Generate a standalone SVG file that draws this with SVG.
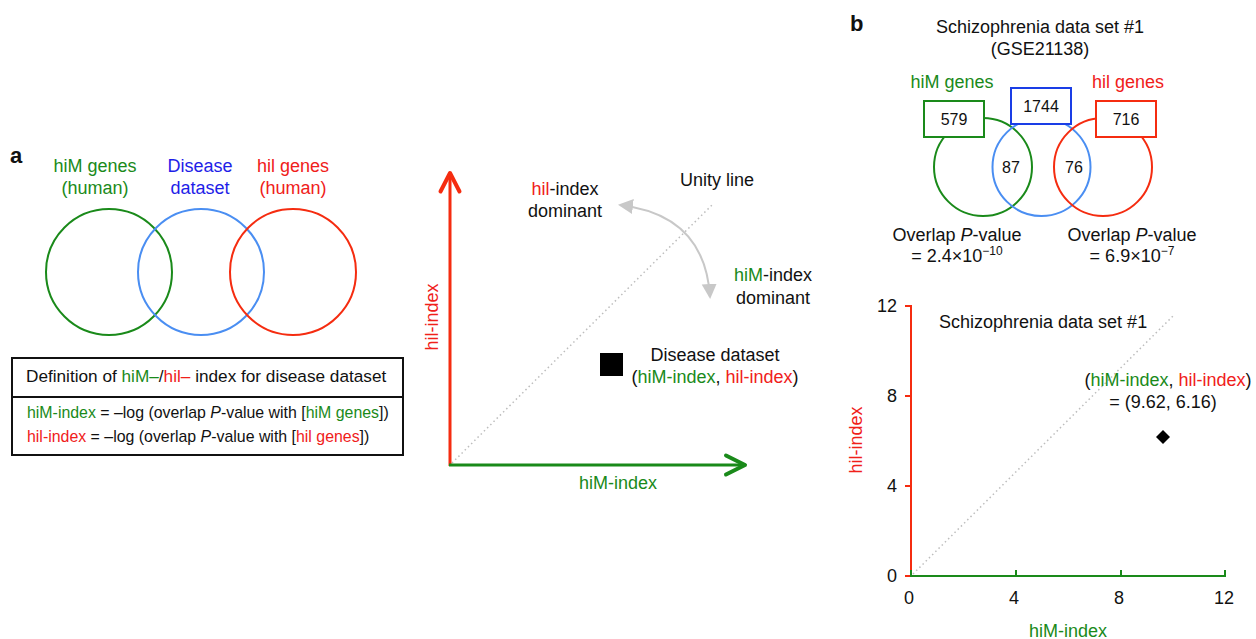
<svg xmlns="http://www.w3.org/2000/svg" width="1256" height="639" viewBox="0 0 1256 639">
<style>
text{font-family:"Liberation Sans",Arial,sans-serif;fill:#111}
.g{fill:#1a8a1a}.r{fill:#f0201a}.b{fill:#1e1ee8}
.lbl{font-size:18px}
.mid{text-anchor:middle}
.end{text-anchor:end}
.panel{font-size:22px;font-weight:bold}
.num{font-size:16px;text-anchor:middle}
.dot{stroke:#bdbdbd;stroke-width:1.5;stroke-dasharray:1.5 3;fill:none}
.cg{fill:none;stroke:#1a8a1a;stroke-width:2}
.cb{fill:none;stroke:#4a8ef2;stroke-width:2}
.cr{fill:none;stroke:#f52c10;stroke-width:2}
.box{fill:#fff;stroke-width:2}
</style>
<defs>
<marker id="gh" markerUnits="userSpaceOnUse" markerWidth="16" markerHeight="16" refX="13" refY="7.5" orient="auto-start-reverse" viewBox="0 0 16 16">
<path d="M0,0 L15,7.5 L0,15 z" fill="#c8c8c8"/>
</marker>
</defs>

<!-- Panel a -->
<text class="panel" x="10" y="163">a</text>

<g id="venn-a">
<circle class="cg" cx="109" cy="272" r="63"/>
<circle class="cb" cx="201" cy="272" r="63"/>
<circle class="cr" cx="293" cy="272" r="63"/>
<text class="lbl mid g" x="95" y="172">hiM genes</text>
<text class="lbl mid g" x="95" y="194">(human)</text>
<text class="lbl mid b" x="200" y="172">Disease</text>
<text class="lbl mid b" x="200" y="194">dataset</text>
<text class="lbl mid r" x="293" y="172">hil genes</text>
<text class="lbl mid r" x="293" y="194">(human)</text>
</g>

<g id="definition">
<rect x="12" y="358" width="391" height="39" fill="none" stroke="#111" stroke-width="2"/>
<rect x="12" y="397" width="391" height="58" fill="none" stroke="#111" stroke-width="2"/>
<text x="26" y="382" font-size="17.2">Definition of <tspan class="g">hiM–</tspan>/<tspan class="r">hil–</tspan> index for disease dataset</text>
<text x="27" y="418" font-size="15.9"><tspan class="g">hiM-index</tspan> = –log (overlap <tspan font-style="italic">P</tspan>-value with [<tspan class="g">hiM genes</tspan>])</text>
<text x="27" y="442" font-size="15.9"><tspan class="r">hil-index</tspan> = –log (overlap <tspan font-style="italic">P</tspan>-value with [<tspan class="r">hil genes</tspan>])</text>
</g>

<g id="schematic-plot">
<line class="dot" x1="452" y1="463" x2="712" y2="205"/>
<line x1="450" y1="466" x2="450" y2="174" stroke="#f52c10" stroke-width="3"/>
<polyline points="440.5,191.5 450,173 459.5,191.5" fill="none" stroke="#f52c10" stroke-width="4" stroke-linecap="round" stroke-linejoin="round"/>
<line x1="449" y1="465" x2="743" y2="465" stroke="#1a8a1a" stroke-width="3"/>
<polyline points="726,455.5 745,465 726,474.5" fill="none" stroke="#1a8a1a" stroke-width="4" stroke-linecap="round" stroke-linejoin="round"/>
<text class="lbl mid g" x="618" y="489">hiM-index</text>
<text class="lbl mid r" transform="translate(438,317) rotate(-90)">hil-index</text>
<text class="lbl" x="680" y="186">Unity line</text>
<text class="lbl mid" x="565" y="195"><tspan class="r">hil</tspan>-index</text>
<text class="lbl mid" x="565" y="217">dominant</text>
<text class="lbl mid" x="773" y="281"><tspan class="g">hiM</tspan>-index</text>
<text class="lbl mid" x="773" y="304">dominant</text>
<rect x="600" y="353" width="23" height="23" fill="#000"/>
<text class="lbl mid" x="715" y="361">Disease dataset</text>
<text class="lbl mid" x="715" y="383">(<tspan class="g">hiM-index</tspan>, <tspan class="r">hil-index</tspan>)</text>
</g>

<g id="connectors">
<path d="M620,205 Q705,215 710,297" fill="none" stroke="#c8c8c8" stroke-width="2" marker-start="url(#gh)" marker-end="url(#gh)"/>
</g>

<!-- Panel b -->
<text class="panel" x="850" y="31">b</text>

<g id="venn-b">
<text class="lbl mid" x="1040" y="33">Schizophrenia data set #1</text>
<text class="lbl mid" x="1040" y="55">(GSE21138)</text>
<text class="lbl mid g" x="952" y="88">hiM genes</text>
<text class="lbl mid r" x="1128" y="88">hil genes</text>
<circle class="cg" cx="983" cy="167" r="49"/>
<circle class="cb" cx="1041.5" cy="167" r="49"/>
<circle class="cr" cx="1103" cy="167" r="49"/>
<rect class="box" x="924" y="101" width="60" height="36" stroke="#1a8a1a"/>
<rect class="box" x="1011" y="88" width="60" height="36" stroke="#1a3ee6"/>
<rect class="box" x="1096" y="101" width="60" height="36" stroke="#f52c10"/>
<text class="num" x="954" y="125">579</text>
<text class="num" x="1041" y="112">1744</text>
<text class="num" x="1126" y="125">716</text>
<text class="num" x="1011" y="173">87</text>
<text class="num" x="1074" y="173">76</text>
<text class="lbl mid" x="957" y="241">Overlap <tspan font-style="italic">P</tspan>-value</text>
<text class="lbl mid" x="957" y="262">= 2.4×10<tspan font-size="12" dy="-7">−10</tspan></text>
<text class="lbl mid" x="1132" y="241">Overlap <tspan font-style="italic">P</tspan>-value</text>
<text class="lbl mid" x="1132" y="262">= 6.9×10<tspan font-size="12" dy="-7">−7</tspan></text>
</g>

<g id="scatter-b">
<line class="dot" x1="913" y1="574" x2="1173" y2="316"/>
<line x1="911" y1="305" x2="911" y2="577" stroke="#f52c10" stroke-width="2"/>
<g stroke="#f52c10" stroke-width="2">
<line x1="905" y1="306" x2="911" y2="306"/>
<line x1="905" y1="396" x2="911" y2="396"/>
<line x1="905" y1="486" x2="911" y2="486"/>
<line x1="905" y1="576" x2="911" y2="576"/>
</g>
<line x1="910" y1="576" x2="1225" y2="576" stroke="#1a8a1a" stroke-width="2"/>
<g stroke="#1a8a1a" stroke-width="2">
<line x1="911" y1="570" x2="911" y2="576"/>
<line x1="1016" y1="570" x2="1016" y2="576"/>
<line x1="1121" y1="570" x2="1121" y2="576"/>
<line x1="1225" y1="570" x2="1225" y2="577"/>
</g>
<text class="lbl end" x="897" y="312">12</text>
<text class="lbl end" x="897" y="402">8</text>
<text class="lbl end" x="897" y="492">4</text>
<text class="lbl end" x="897" y="582">0</text>
<text class="lbl mid" x="909" y="604">0</text>
<text class="lbl mid" x="1014" y="604">4</text>
<text class="lbl mid" x="1119" y="604">8</text>
<text class="lbl mid" x="1224" y="604">12</text>
<text class="lbl mid g" x="1068" y="637">hiM-index</text>
<text class="lbl mid r" transform="translate(862,440) rotate(-90)">hil-index</text>
<text class="lbl" x="939" y="328">Schizophrenia data set #1</text>
<text class="lbl mid" x="1168" y="386">(<tspan class="g">hiM-index</tspan>, <tspan class="r">hil-index</tspan>)</text>
<text class="lbl mid" x="1163" y="408">= (9.62, 6.16)</text>
<polygon points="1163,430 1170,437 1163,444 1156,437" fill="#000"/>
</g>
</svg>
